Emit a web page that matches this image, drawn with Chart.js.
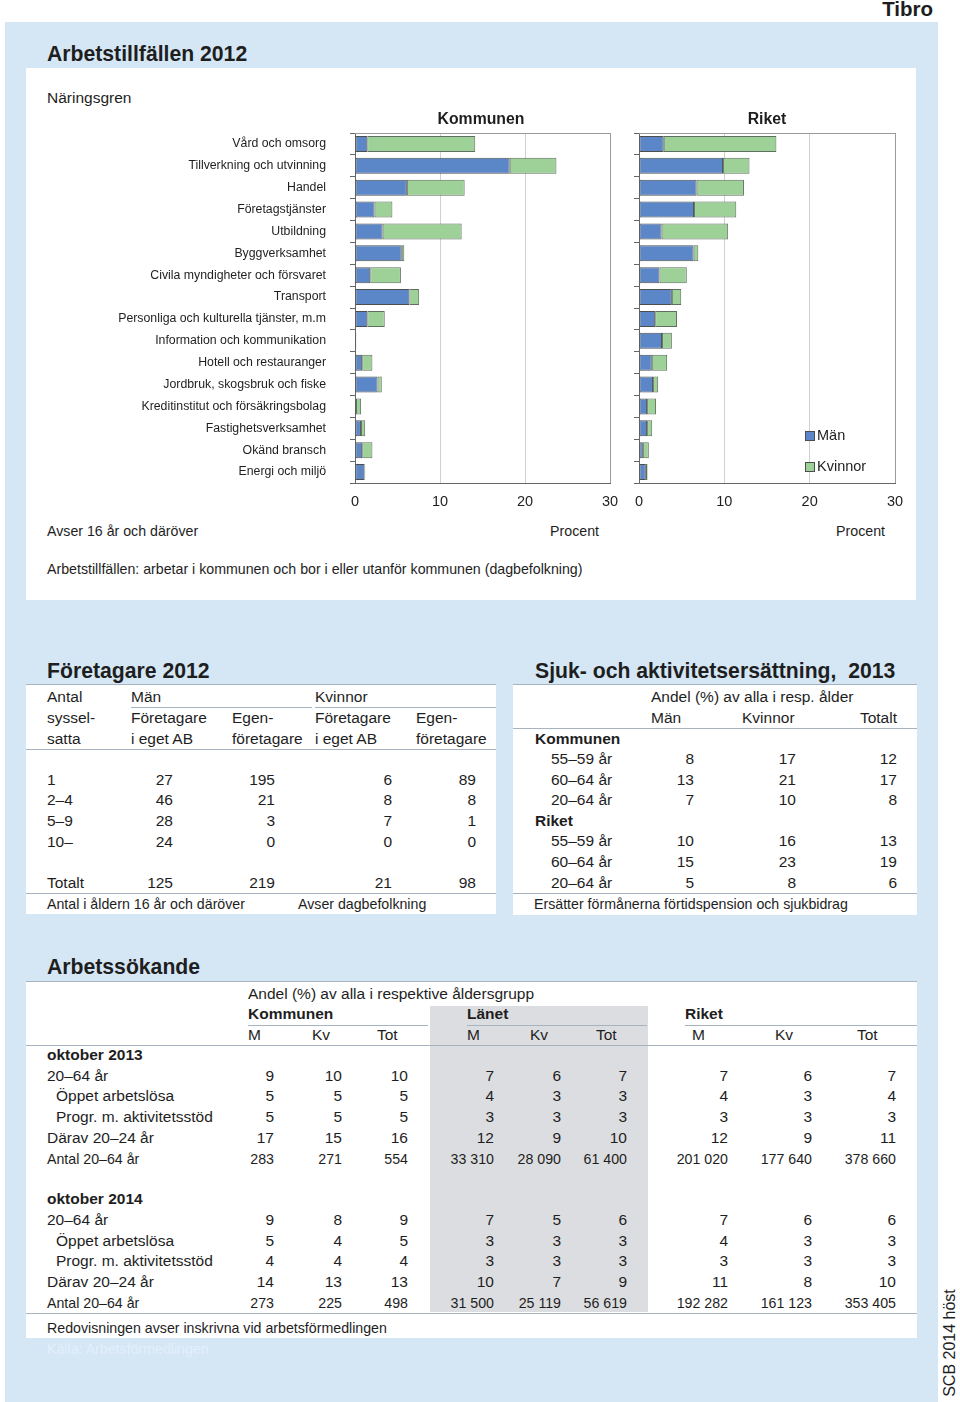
<!DOCTYPE html>
<html>
<head>
<meta charset="utf-8">
<script src="https://cdn.jsdelivr.net/npm/chart.js@4.4.1/dist/chart.umd.min.js"></script>
<style>
body { margin: 0; width: 960px; height: 1402px; position: relative; background: #fff; overflow: hidden;
       font-family: "Liberation Sans", Arial, sans-serif; color: #1e1e1e; }
.abs { position: absolute; white-space: pre; line-height: 1; }
.box { position: absolute; background: #fff; }
.line { position: absolute; height: 1px; background: #a7b3bf; }
canvas { position: absolute; }
</style>
</head>
<body>
<div class="box" style="left:5px;top:22px;width:933px;height:1380px;background:#d5e7f5"></div>
<div class="box" style="left:26px;top:68px;width:890px;height:532px"></div>
<div class="box" style="left:26px;top:684px;width:470px;height:230px"></div>
<div class="box" style="left:513px;top:684px;width:404px;height:231px"></div>
<div class="box" style="left:26px;top:981px;width:891px;height:357px"></div>
<div class="box" style="left:430px;top:1006px;width:218px;height:306px;background:#dcdde0"></div>

<canvas id="kommun" width="595" height="395" style="left:30px;top:125px"></canvas>
<canvas id="riket" width="285" height="395" style="left:625px;top:125px"></canvas>

<div class="box" style="left:805px;top:431px;width:8px;height:8px;background:#5b87c9;border:1px solid #4d4d4d"></div>
<div class="box" style="left:805px;top:462px;width:8px;height:8px;background:#9dd197;border:1px solid #4d4d4d"></div>

<script>
// Näringsgrenar, andel i procent
const categories = [
    'Vård och omsorg', 'Tillverkning och utvinning', 'Handel', 'Företagstjänster',
    'Utbildning', 'Byggverksamhet', 'Civila myndigheter och försvaret', 'Transport',
    'Personliga och kulturella tjänster, m.m', 'Information och kommunikation',
    'Hotell och restauranger', 'Jordbruk, skogsbruk och fiske',
    'Kreditinstitut och försäkringsbolag', 'Fastighetsverksamhet', 'Okänd bransch', 'Energi och miljö'
];
const kommunMan = [1.45, 18.2, 6.1, 2.3, 3.25, 5.5, 1.8, 6.4, 1.45, 0.1, 0.85, 2.65, 0.12, 0.7, 0.85, 1.1];
const kommunKvinnor = [12.7, 5.5, 6.8, 2.1, 9.3, 0.3, 3.6, 1.15, 2.05, 0.05, 1.2, 0.5, 0.6, 0.5, 1.2, 0.1];
const riketMan = [2.9, 9.85, 6.75, 6.45, 2.65, 6.4, 2.4, 3.85, 1.9, 2.7, 1.5, 1.65, 0.95, 0.95, 0.45, 0.8];
const riketKvinnor = [13.2, 3.1, 5.55, 4.95, 7.8, 0.55, 3.2, 1.1, 2.55, 1.15, 1.8, 0.6, 1.05, 0.6, 0.7, 0.2];
const xMax = 30;
const xStep = 10;

Chart.defaults.font.family = '"Liberation Sans", Arial, sans-serif';
Chart.defaults.color = '#1e1e1e';

const framePlugin = {
    id: 'frame',
    beforeDatasetsDraw(chart) {
        const a = chart.chartArea, c = chart.ctx;
        c.save();
        c.strokeStyle = '#9a9a9a';
        c.lineWidth = 1;
        c.beginPath();
        c.moveTo(a.left, a.top + 0.5);
        c.lineTo(a.right, a.top + 0.5);
        c.stroke();
        c.restore();
    }
};

function drawChart(id, man, kvinnor, showLabels, yWidth) {
    new Chart(document.getElementById(id), {
        type: 'bar',
        data: {
            labels: categories,
            datasets: [
                { label: 'Män', data: man, backgroundColor: '#5b87c9', borderColor: '#4d4d4d',
                  borderWidth: 1, borderSkipped: false, barPercentage: 0.73, categoryPercentage: 1 },
                { label: 'Kvinnor', data: kvinnor, backgroundColor: '#9dd197', borderColor: '#5f6f5f',
                  borderWidth: 1, borderSkipped: false, barPercentage: 0.73, categoryPercentage: 1 }
            ]
        },
        options: {
            indexAxis: 'y',
            responsive: false,
            animation: false,
            layout: { padding: { top: 8, right: 15, left: 0, bottom: 0 } },
            plugins: { legend: { display: false }, tooltip: { enabled: false } },
            scales: {
                x: {
                    stacked: true, min: 0, max: xMax,
                    afterFit: s => { s.height = 37; s.paddingLeft = 0; s.paddingRight = 0; },
                    ticks: { stepSize: xStep, padding: 10, maxRotation: 0, font: { size: 14.5 }, color: '#1e1e1e' },
                    grid: { drawTicks: false, color: c => c.tick && c.tick.value === xMax ? '#9a9a9a' : '#d0d0d0' },
                    border: { color: '#666' }
                },
                y: {
                    stacked: true,
                    afterFit: s => { s.width = yWidth; s.paddingTop = 0; s.paddingBottom = 0; },
                    ticks: { display: showLabels, autoSkip: false, padding: 24, font: { size: 12.3 }, color: '#1e1e1e' },
                    grid: { drawOnChartArea: false, offset: true, tickLength: 5, color: '#666' },
                    border: { color: '#666' }
                }
            }
        },
        plugins: [framePlugin]
    });
}

drawChart('kommun', kommunMan, kommunKvinnor, true, 325);
drawChart('riket', riketMan, riketKvinnor, false, 14);

// text helpers
function txt(x, y, s, o) {
    o = o || {};
    const fs = o.fs || 15.5;
    const d = document.createElement('div');
    d.className = 'abs';
    d.textContent = s;
    d.style.fontSize = fs + 'px';
    d.style.top = (y - 0.55 * fs) + 'px';
    if (o.right) d.style.right = (960 - x) + 'px';
    else if (o.center) { d.style.left = x + 'px'; d.style.transform = 'translateX(-50%)'; }
    else d.style.left = x + 'px';
    if (o.bold) d.style.fontWeight = 'bold';
    if (o.color) d.style.color = o.color;
    document.body.appendChild(d);
    return d;
}
function hline(x1, x2, y) {
    const d = document.createElement('div');
    d.className = 'line';
    d.style.left = x1 + 'px';
    d.style.width = (x2 - x1) + 'px';
    d.style.top = y + 'px';
    document.body.appendChild(d);
}

txt(933, 10, 'Tibro', { right: true, bold: true, fs: 20.5 });

// Arbetstillfällen
txt(47, 55, 'Arbetstillfällen 2012', { bold: true, fs: 21.2 });
txt(47, 99, 'Näringsgren', { fs: 15.5 });
txt(481, 120, 'Kommunen', { center: true, bold: true, fs: 15.8 });
txt(767, 120, 'Riket', { center: true, bold: true, fs: 15.8 });
txt(817, 436, 'Män', { fs: 14.5 });
txt(817, 467, 'Kvinnor', { fs: 14.5 });
txt(47, 532, 'Avser 16 år och däröver', { fs: 14.2 });
txt(599, 532, 'Procent', { right: true, fs: 14.2 });
txt(885, 532, 'Procent', { right: true, fs: 14.2 });
txt(47, 570, 'Arbetstillfällen: arbetar i kommunen och bor i eller utanför kommunen (dagbefolkning)', { fs: 14.2 });

// Företagare 2012
txt(47, 672, 'Företagare 2012', { bold: true, fs: 21.2 });
hline(26, 496, 684);
txt(47, 698, 'Antal'); txt(131, 698, 'Män'); txt(315, 698, 'Kvinnor');
hline(131, 312, 707); hline(315, 496, 707);
txt(47, 719, 'syssel-'); txt(131, 719, 'Företagare'); txt(232, 719, 'Egen-');
txt(315, 719, 'Företagare'); txt(416, 719, 'Egen-');
txt(47, 740, 'satta'); txt(131, 740, 'i eget AB'); txt(232, 740, 'företagare');
txt(315, 740, 'i eget AB'); txt(416, 740, 'företagare');
hline(26, 496, 749);
const foretagRows = [
    ['1', '27', '195', '6', '89', 781],
    ['2–4', '46', '21', '8', '8', 801],
    ['5–9', '28', '3', '7', '1', 822],
    ['10–', '24', '0', '0', '0', 843],
    ['Totalt', '125', '219', '21', '98', 884]
];
const foretagCols = [173, 275, 392, 476];
foretagRows.forEach(r => {
    txt(47, r[5], r[0]);
    foretagCols.forEach((x, i) => txt(x, r[5], r[i + 1], { right: true }));
});
hline(26, 496, 893);
txt(47, 905, 'Antal i åldern 16 år och däröver', { fs: 14.2 });
txt(298, 905, 'Avser dagbefolkning', { fs: 14.2 });

// Sjuk- och aktivitetsersättning
txt(535, 672, 'Sjuk- och aktivitetsersättning,  2013', { bold: true, fs: 21.2 });
hline(513, 917, 684);
txt(651, 698, 'Andel (%) av alla i resp. ålder');
txt(651, 719, 'Män'); txt(742, 719, 'Kvinnor'); txt(897, 719, 'Totalt', { right: true });
hline(513, 917, 728);
const sjukCols = [694, 796, 897];
const sjukRows = [
    ['Kommunen', null, 740],
    ['55–59 år', ['8', '17', '12'], 760],
    ['60–64 år', ['13', '21', '17'], 781],
    ['20–64 år', ['7', '10', '8'], 801],
    ['Riket', null, 822],
    ['55–59 år', ['10', '16', '13'], 842],
    ['60–64 år', ['15', '23', '19'], 863],
    ['20–64 år', ['5', '8', '6'], 884]
];
sjukRows.forEach(r => {
    if (!r[1]) { txt(535, r[2], r[0], { bold: true }); return; }
    txt(551, r[2], r[0]);
    sjukCols.forEach((x, i) => txt(x, r[2], r[1][i], { right: true }));
});
hline(513, 917, 893);
txt(534, 905, 'Ersätter förmånerna förtidspension och sjukbidrag', { fs: 14.2 });

// Arbetssökande
txt(47, 968, 'Arbetssökande', { bold: true, fs: 21.2 });
hline(26, 917, 981);
txt(248, 995, 'Andel (%) av alla i respektive åldersgrupp');
txt(248, 1015, 'Kommunen', { bold: true }); txt(467, 1015, 'Länet', { bold: true }); txt(685, 1015, 'Riket', { bold: true });
hline(248, 428, 1025); hline(467, 647, 1025); hline(685, 917, 1025);
[[248, 'M'], [312, 'Kv'], [377, 'Tot'], [467, 'M'], [530, 'Kv'], [596, 'Tot'], [692, 'M'], [775, 'Kv'], [857, 'Tot']]
    .forEach(h => txt(h[0], 1036, h[1]));
hline(26, 917, 1045);
const sokCols = [274, 342, 408, 494, 561, 627, 728, 812, 896];
const sokRows = [
    ['oktober 2013', null, 1056, 'head'],
    ['20–64 år', ['9', '10', '10', '7', '6', '7', '7', '6', '7'], 1077, ''],
    ['Öppet arbetslösa', ['5', '5', '5', '4', '3', '3', '4', '3', '4'], 1097, 'ind'],
    ['Progr. m. aktivitetsstöd', ['5', '5', '5', '3', '3', '3', '3', '3', '3'], 1118, 'ind'],
    ['Därav 20–24 år', ['17', '15', '16', '12', '9', '10', '12', '9', '11'], 1139, ''],
    ['Antal 20–64 år', ['283', '271', '554', '33 310', '28 090', '61 400', '201 020', '177 640', '378 660'], 1160, 'small'],
    ['oktober 2014', null, 1200, 'head'],
    ['20–64 år', ['9', '8', '9', '7', '5', '6', '7', '6', '6'], 1221, ''],
    ['Öppet arbetslösa', ['5', '4', '5', '3', '3', '3', '4', '3', '3'], 1242, 'ind'],
    ['Progr. m. aktivitetsstöd', ['4', '4', '4', '3', '3', '3', '3', '3', '3'], 1262, 'ind'],
    ['Därav 20–24 år', ['14', '13', '13', '10', '7', '9', '11', '8', '10'], 1283, ''],
    ['Antal 20–64 år', ['273', '225', '498', '31 500', '25 119', '56 619', '192 282', '161 123', '353 405'], 1304, 'small']
];
sokRows.forEach(r => {
    if (r[3] === 'head') { txt(47, r[2], r[0], { bold: true }); return; }
    const fs = r[3] === 'small' ? 14.2 : 15.5;
    txt(r[3] === 'ind' ? 56 : 47, r[2], r[0], { fs: fs });
    sokCols.forEach((x, i) => txt(x, r[2], r[1][i], { right: true, fs: fs }));
});
hline(26, 917, 1313);
txt(47, 1329, 'Redovisningen avser inskrivna vid arbetsförmedlingen', { fs: 14.2 });
txt(47, 1350, 'Källa: Arbetsförmedlingen', { fs: 14.2, color: '#e4effa' });

const scb = txt(950, 1344, 'SCB 2014 höst', { center: true, fs: 16 });
scb.style.transform = 'translate(-50%, 0) rotate(-90deg)';
</script>
</body>
</html>
